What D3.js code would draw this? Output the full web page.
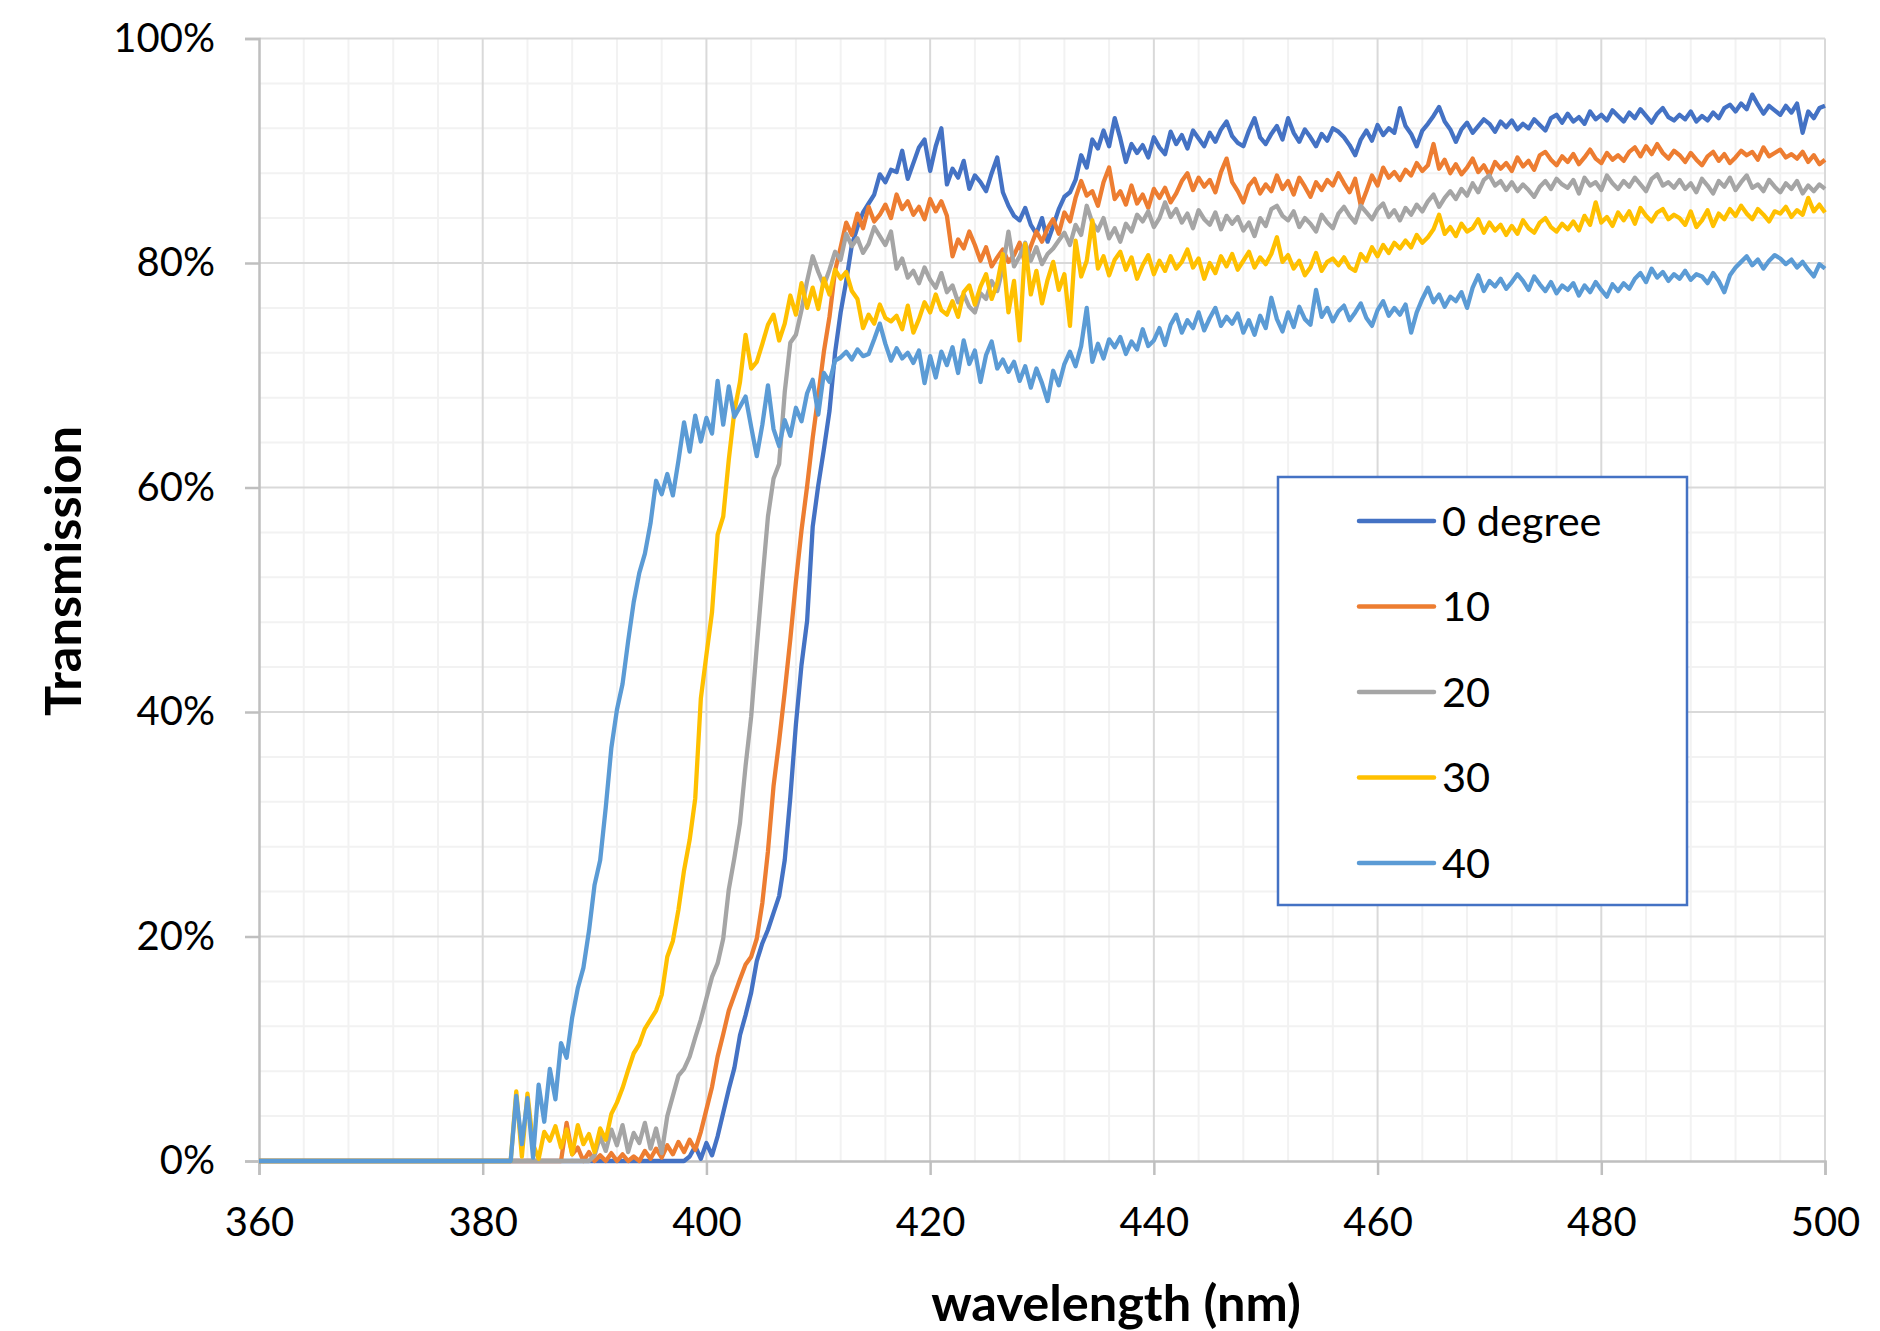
<!DOCTYPE html>
<html>
<head>
<meta charset="utf-8">
<script src="https://cdn.jsdelivr.net/npm/d3@7"></script>
<style>
  body { margin: 0; background: #fff; }
  svg text { font-family: Lato, "Open Sans", sans-serif; fill: #000; }
</style>
</head>
<body>
<div id="chart"></div>
<script>
// sampled transmission spectra, every 0.5 nm from 382 nm (flat 0% from 360 nm)
var startNm = 382;
var stepNm = 0.5;

var xTicks = [360, 380, 400, 420, 440, 460, 480, 500];
var yTicks = [0, 20, 40, 60, 80, 100];

var seriesNames = ["0 degree", "10", "20", "30", "40"];
var seriesColors = ["#4472C4", "#ED7D31", "#A5A5A5", "#FFC000", "#5B9BD5"];

var t0 = [
  0, 0, 0, 0, 0, 0, 0, 0, 0, 0,
  0, 0, 0, 0, 0, 0, 0, 0, 0, 0,
  0, 0, 0, 0, 0, 0, 0, 0, 0, 0,
  0, 0, 0, 0.4, 1.3, 0.2, 1.6, 0.5, 2.2, 4.3,
  6.4, 8.3, 11.2, 13.0, 15.0, 17.8, 19.4, 20.6, 22.1, 23.6,
  26.8, 32.4, 38.9, 44.2, 48.1, 56.5, 60.2, 63.4, 66.8, 72.0,
  75.6, 78.4, 81.6, 83.2, 84.5, 85.3, 86.1, 87.9, 87.2, 88.3,
  88.1, 90.0, 87.5, 88.9, 90.3, 91.0, 88.2, 90.4, 92.0, 87.0,
  88.4, 87.6, 89.1, 86.6, 87.8, 87.2, 86.4, 88.0, 89.4, 86.3,
  85.1, 84.2, 83.8, 84.9, 83.4, 82.6, 84.0, 81.9, 83.3, 84.8,
  85.9, 86.3, 87.4, 89.6, 88.5, 91.0, 90.2, 91.8, 90.4, 92.9,
  91.1, 89.0, 90.6, 89.8, 90.5, 89.4, 91.2, 90.3, 89.7, 91.7,
  90.6, 91.4, 90.2, 91.8, 91.1, 90.4, 91.6, 90.8, 91.9, 92.6,
  91.3, 90.7, 90.4, 91.8, 92.9, 91.2, 90.6, 91.5, 92.2, 91.0,
  92.9, 91.6, 90.8, 91.9, 91.2, 90.4, 91.5, 90.9, 92.0, 91.7,
  91.2, 90.5, 89.6, 91.0, 91.8, 90.9, 92.3, 91.4, 92.0, 91.6,
  93.8, 92.2, 91.5, 90.4, 91.8, 92.4, 93.1, 93.9, 92.6, 91.9,
  90.8, 91.9, 92.5, 91.6, 92.2, 92.8, 92.4, 91.7, 92.6, 92.1,
  92.7, 91.9, 92.4, 92.0, 92.8, 92.3, 91.8, 92.9, 93.2, 92.5,
  93.3, 92.6, 93.0, 92.4, 93.5, 92.8, 93.2, 92.7, 93.6, 93.1,
  92.6, 93.4, 92.9, 93.7, 93.1, 92.5, 93.3, 93.8, 93.0, 92.7,
  93.2, 92.8, 93.5, 92.6, 93.1, 92.7, 93.4, 92.9, 93.8, 94.1,
  93.5, 94.2, 93.7, 95.0, 94.1, 93.3, 94.0, 93.6, 93.2, 94.0,
  93.4, 94.2, 91.6, 93.5, 92.9, 93.8, 94.0
];

var t10 = [
  0, 0, 0, 0, 0, 0, 0, 0, 0, 0,
  0, 3.4, 0.6, 1.2, 0, 0.8, 0, 0.5, 0, 0.7,
  0, 0.6, 0, 0.4, 0, 0.9, 0.2, 1.1, 0.3, 1.4,
  0.6, 1.7, 0.8, 1.9, 1.0, 2.6, 4.6, 6.6, 9.3, 11.3,
  13.4, 14.8, 16.2, 17.5, 18.2, 19.8, 23.0, 27.6, 33.4, 37.4,
  41.8, 46.5, 51.6, 56.2, 60.1, 64.4, 68.2, 72.1, 75.2, 79.3,
  81.4, 83.6, 82.5, 84.4, 83.1, 85.0, 83.7, 84.3, 85.2, 84.0,
  86.1, 84.8, 85.5, 84.3, 85.0, 83.9, 85.7, 84.6, 85.5, 84.2,
  80.6, 82.1, 81.3, 82.8, 81.6, 80.2, 81.4, 79.7, 80.5, 81.2,
  80.1, 80.7, 81.8, 79.9, 81.5, 82.8, 81.9, 83.1, 83.9, 82.6,
  84.5, 83.7, 85.8, 87.3, 86.0, 86.4, 85.1, 87.2, 88.5, 85.7,
  86.4, 85.2, 86.9, 85.3, 86.1, 84.9, 86.6, 85.8, 86.7, 85.4,
  86.2, 87.3, 88.0, 86.5, 87.6, 86.8, 87.4, 86.3, 88.1, 89.3,
  87.2, 86.4, 85.4, 86.9, 87.5, 86.2, 87.0, 86.4, 87.8, 86.6,
  87.3, 86.1, 87.6, 86.8, 85.9, 87.2, 86.5, 87.4, 86.9, 88.0,
  87.1, 86.3, 87.5, 85.1, 86.4, 87.8, 86.9, 88.5, 87.6, 88.1,
  87.4, 88.3, 87.8, 88.9, 88.2, 88.7, 90.6, 88.4, 89.2, 88.0,
  88.8, 87.9, 88.5, 89.3, 88.1, 88.7, 87.8, 89.0, 88.4, 88.9,
  88.2, 89.4, 88.6, 89.1, 88.3, 89.6, 89.9, 89.2, 88.7, 89.5,
  89.0, 89.7, 88.8, 89.4, 90.1, 89.3, 88.9, 89.8, 89.2, 89.6,
  89.1, 89.9, 90.3, 89.5, 90.4, 89.7, 90.6, 89.8, 89.3, 90.0,
  89.6, 89.0, 89.8, 89.2, 88.7, 89.5, 89.9, 89.1, 89.7, 88.9,
  89.4, 90.0, 89.6, 89.9, 89.2, 90.3, 89.5, 89.8, 90.1, 89.4,
  89.7, 89.3, 89.9, 89.0, 89.6, 88.8, 89.2
];

var t20 = [
  0, 0, 0, 0, 0, 0, 0, 0, 0, 0,
  0, 0, 0, 0, 0, 0, 0.5, 2.2, 0.9, 2.8,
  1.4, 3.2, 0.8, 2.5, 1.6, 3.4, 1.1, 2.9, 0.7, 4.0,
  5.8, 7.6, 8.2, 9.3, 11.0, 12.6, 14.5, 16.4, 17.6, 19.8,
  24.2, 27.0, 30.1, 35.2, 39.6, 45.8, 51.7, 57.4, 60.8, 62.1,
  68.5, 72.9, 73.6, 75.8, 78.4, 80.6, 79.2, 78.0, 79.4, 81.0,
  80.3, 82.6, 81.5, 82.2, 80.9, 81.7, 83.2, 82.4, 81.6, 82.8,
  79.5, 80.4, 78.7, 79.3, 78.2, 79.6, 78.5, 77.8, 79.1, 77.4,
  78.0, 76.5, 77.2, 76.1, 75.6, 77.3, 76.8, 78.4, 77.5, 79.6,
  82.8, 79.7, 80.6, 81.8, 80.2, 81.4, 79.9, 80.8, 81.3, 82.0,
  82.7, 81.6, 83.4, 82.5, 85.1, 83.6, 82.9, 84.0, 82.2, 83.1,
  81.9, 83.5, 82.8, 84.3, 83.7, 84.6, 83.2, 84.0, 85.4, 84.1,
  84.8, 83.6, 84.4, 83.1, 84.7, 83.9, 83.4, 84.5, 83.0, 84.2,
  83.5, 84.1, 82.9, 83.6, 82.4, 84.0, 83.3, 84.8, 85.1, 84.2,
  83.8, 84.6, 83.2, 84.0, 83.5, 82.8, 84.3, 83.6, 83.1, 84.4,
  85.0, 84.2, 83.6, 85.1, 84.5, 83.9, 84.8, 85.3, 84.1, 84.7,
  83.8, 84.9, 84.3, 85.2, 84.6, 85.5, 86.1, 85.0, 85.8, 86.4,
  85.7, 86.6, 86.0, 87.1, 86.3, 87.4, 87.8, 86.9, 87.3, 86.5,
  87.2, 86.4, 87.0, 86.5, 85.9, 86.8, 87.3, 86.6, 87.5, 87.0,
  86.7, 87.4, 86.2, 87.6, 86.9, 87.2, 86.5, 87.8, 87.1, 86.6,
  87.3, 86.8, 87.6, 87.0, 86.4, 87.5, 87.9, 86.9, 87.2, 86.7,
  87.4, 86.6, 87.1, 86.3, 87.5, 86.9, 86.2, 87.3, 86.8, 87.6,
  86.5, 87.2, 87.8, 86.7, 87.0, 86.4, 87.4, 86.8, 86.3, 87.1,
  86.6, 87.3, 86.2, 86.9, 86.4, 87.0, 86.6
];

var t30 = [
  0, 0, 6.2, 0.4, 6.0, 1.5, 0.2, 2.6, 1.8, 3.1,
  1.2, 2.8, 0.6, 3.2, 1.5, 2.4, 0.8, 2.9, 1.9, 4.2,
  5.2, 6.5, 8.1, 9.6, 10.4, 11.8, 12.6, 13.4, 14.8, 18.2,
  19.6, 22.4, 25.9, 28.6, 32.3, 41.2, 45.1, 48.9, 55.8, 57.4,
  62.5, 66.8, 69.4, 73.6, 70.6, 71.2, 72.8, 74.5, 75.4, 73.1,
  74.6, 77.1, 75.4, 78.2, 76.0, 77.8, 75.9, 78.6, 77.2, 79.4,
  78.6, 79.2, 77.5, 76.8, 74.2, 75.4, 74.6, 76.3, 75.1, 74.8,
  75.3, 74.1, 76.2, 73.8, 75.0, 76.5, 75.6, 77.2, 75.8, 75.4,
  76.6, 75.2, 77.4, 78.0, 76.3, 77.9, 79.0, 76.8, 78.2, 80.8,
  75.6, 78.4, 73.1, 81.7, 77.2, 79.3, 76.4, 78.5, 80.1, 77.6,
  79.0, 74.4, 82.0, 78.8, 80.2, 83.8, 79.5, 80.6, 78.9, 80.3,
  81.0, 79.4, 80.5, 78.6, 79.8, 80.7, 79.0, 80.2, 79.3, 80.6,
  79.5, 80.1, 81.2, 79.6, 80.4, 78.6, 80.0, 79.1, 80.6, 79.7,
  80.8, 79.4, 80.2, 81.0, 79.6, 80.5, 79.9, 80.8, 82.3, 80.1,
  80.7, 79.5, 80.2, 78.9, 79.6, 80.9, 79.3, 80.1, 80.4, 79.8,
  80.5, 79.6, 79.3, 80.8, 80.2, 81.4, 80.6, 81.6, 80.9, 81.8,
  81.3, 82.0, 81.4, 82.5, 81.8, 82.3, 83.0, 84.3, 82.6, 83.2,
  82.4, 83.5, 82.8, 83.1, 83.9, 82.7, 83.6, 82.9, 83.4, 82.5,
  83.3, 82.6, 83.8, 83.1, 82.7, 83.6, 84.0, 83.2, 82.8, 83.5,
  83.0, 83.7, 82.9, 84.2, 83.4, 85.4, 83.6, 84.1, 83.3, 84.5,
  83.8, 84.6, 83.5, 84.9, 84.2, 83.7, 84.5, 84.8, 83.9, 84.3,
  84.0, 83.4, 84.6, 83.2, 83.8, 84.7, 83.3, 84.4, 83.9, 84.8,
  84.2, 85.1, 84.4, 83.9, 84.8, 84.3, 83.7, 84.6, 84.4, 85.0,
  84.1, 84.7, 84.3, 85.8, 84.6, 85.2, 84.5
];

var t40 = [
  0, 0, 5.8, 1.5, 5.6, 0.3, 6.8, 3.5, 8.2, 5.5,
  10.5, 9.2, 12.8, 15.4, 17.2, 20.5, 24.6, 26.8, 31.5, 36.8,
  40.2, 42.5, 46.3, 49.8, 52.4, 54.1, 56.8, 60.6, 59.4, 61.2,
  59.3, 62.4, 65.8, 63.2, 66.4, 64.1, 66.2, 64.8, 69.5, 65.6,
  69.0, 66.3, 67.2, 68.1, 65.4, 62.8, 65.6, 69.1, 65.2, 63.7,
  66.0, 64.6, 67.1, 65.9, 68.4, 69.6, 66.5, 70.2, 69.4, 71.3,
  71.6, 72.1, 71.4, 72.3, 71.7, 71.9, 73.2, 74.6, 72.8, 71.3,
  72.4, 71.5, 72.0, 71.1, 72.2, 69.3, 71.7, 69.8, 72.1, 70.9,
  72.5, 70.2, 73.1, 71.0, 72.2, 69.4, 71.8, 73.0, 70.6, 71.4,
  70.3, 71.2, 69.5, 70.8, 68.9, 70.6, 69.3, 67.7, 70.4, 69.1,
  71.0, 72.1, 70.8, 72.6, 76.0, 71.2, 72.8, 71.5, 73.2, 72.5,
  73.4, 71.9, 73.0, 72.3, 74.1, 72.6, 73.1, 74.2, 72.7, 74.5,
  75.4, 73.8, 74.9, 74.2, 75.6, 74.0, 75.1, 76.0, 74.4, 75.2,
  74.6, 75.5, 73.8, 74.9, 73.6, 75.3, 74.2, 76.9, 75.0, 73.9,
  75.6, 74.3, 76.1, 75.0, 74.5, 77.6, 75.2, 76.0, 74.8, 75.7,
  76.2, 74.9, 75.6, 76.4, 75.1, 74.4, 75.8, 76.6, 75.3, 76.0,
  75.4, 76.3, 73.8, 75.6, 76.8, 77.8, 76.5, 77.2, 76.1, 77.0,
  76.6, 77.4, 76.0, 77.8, 78.9, 77.5, 78.4, 77.9, 78.6, 77.7,
  78.3, 79.0, 78.4, 77.6, 78.8, 78.1, 77.5, 78.3, 77.3, 78.0,
  77.6, 78.2, 77.1, 78.0, 77.4, 78.3, 77.6, 77.0, 78.1, 77.5,
  78.2, 77.7, 78.6, 79.1, 78.3, 79.5, 78.7, 79.2, 78.4, 79.0,
  78.6, 79.3, 78.5, 79.0, 78.8, 78.2, 79.1, 78.4, 77.4, 78.9,
  79.6, 80.1, 80.6, 79.8, 80.3, 79.5, 80.2, 80.7, 80.4, 79.9,
  80.3, 79.6, 80.1, 79.4, 78.8, 79.9, 79.5
];

var seriesValues = [t0, t10, t20, t30, t40];

var svgWidth = 1880;
var svgHeight = 1331;

var margin = { top: 38.5, right: 55, bottom: 170, left: 259 };
var width = svgWidth - margin.left - margin.right;
var height = svgHeight - margin.top - margin.bottom;

var svg = d3.select("#chart")
  .append("svg")
  .attr("width", svgWidth)
  .attr("height", svgHeight);

var chartGroup = svg.append("g")
  .attr("transform", `translate(${margin.left}, ${margin.top})`);

var xScale = d3.scaleLinear().domain([360, 500]).range([0, width]);
var yScale = d3.scaleLinear().domain([0, 100]).range([height, 0]);

// minor grid (every 4 units)
chartGroup.append("g").selectAll("line")
  .data(d3.range(364, 500, 4).filter(d => (d - 360) % 20 !== 0))
  .enter().append("line")
  .attr("x1", d => xScale(d)).attr("x2", d => xScale(d))
  .attr("y1", 0).attr("y2", height)
  .attr("stroke", "#f2f2f2").attr("stroke-width", 2);

chartGroup.append("g").selectAll("line")
  .data(d3.range(4, 100, 4).filter(d => d % 20 !== 0))
  .enter().append("line")
  .attr("x1", 0).attr("x2", width)
  .attr("y1", d => yScale(d)).attr("y2", d => yScale(d))
  .attr("stroke", "#f2f2f2").attr("stroke-width", 2);

// major grid
chartGroup.append("g").selectAll("line")
  .data(xTicks.slice(1))
  .enter().append("line")
  .attr("x1", d => xScale(d)).attr("x2", d => xScale(d))
  .attr("y1", 0).attr("y2", height)
  .attr("stroke", "#d9d9d9").attr("stroke-width", 2);

chartGroup.append("g").selectAll("line")
  .data(yTicks.slice(1))
  .enter().append("line")
  .attr("x1", 0).attr("x2", width)
  .attr("y1", d => yScale(d)).attr("y2", d => yScale(d))
  .attr("stroke", "#d9d9d9").attr("stroke-width", 2);

// axes
var bottomAxis = d3.axisBottom(xScale).tickValues(xTicks).tickSize(14).tickPadding(33);
var leftAxis = d3.axisLeft(yScale).tickValues(yTicks).tickSize(14).tickPadding(30)
  .tickFormat(d => d + "%");

var xAxisG = chartGroup.append("g")
  .attr("transform", `translate(0, ${height})`)
  .call(bottomAxis);

var yAxisG = chartGroup.append("g")
  .call(leftAxis);

[xAxisG, yAxisG].forEach(function(g) {
  g.select(".domain").attr("stroke", "#bfbfbf").attr("stroke-width", 2.5);
  g.selectAll(".tick line").attr("stroke", "#bfbfbf").attr("stroke-width", 2.5);
  g.selectAll(".tick text")
    .attr("font-family", "Lato, 'Open Sans', sans-serif")
    .attr("font-size", 40)
    .attr("fill", "#000");
});

// series lines
var line = d3.line()
  .x(d => xScale(d[0]))
  .y(d => yScale(d[1]));

seriesValues.forEach(function(vals, k) {
  var pts = [[360, 0]].concat(vals.map((v, i) => [startNm + i * stepNm, v]));
  chartGroup.append("path")
    .datum(pts)
    .attr("fill", "none")
    .attr("stroke", seriesColors[k])
    .attr("stroke-width", 4.3)
    .attr("stroke-linejoin", "round")
    .attr("d", line);
});

// axis titles
svg.append("text")
  .attr("transform", `translate(63, 571) rotate(-90)`)
  .attr("text-anchor", "middle")
  .attr("dy", "0.36em")
  .attr("font-size", 50.5)
  .attr("font-weight", "bold")
  .text("Transmission");

svg.append("text")
  .attr("x", 1116)
  .attr("y", 1303)
  .attr("text-anchor", "middle")
  .attr("dy", "0.36em")
  .attr("font-size", 50.5)
  .attr("font-weight", "bold")
  .text("wavelength (nm)");

// legend
var legend = svg.append("g");
legend.append("rect")
  .attr("x", 1278).attr("y", 477)
  .attr("width", 409).attr("height", 428)
  .attr("fill", "#fff")
  .attr("stroke", "#4472C4")
  .attr("stroke-width", 2.5);

var legendItems = legend.selectAll(".item")
  .data(seriesNames)
  .enter().append("g")
  .attr("transform", (d, i) => `translate(0, ${521 + i * 85.5})`);

legendItems.append("line")
  .attr("x1", 1359).attr("x2", 1434)
  .attr("stroke", (d, i) => seriesColors[i])
  .attr("stroke-width", 4.5)
  .attr("stroke-linecap", "round");

legendItems.append("text")
  .attr("x", 1442)
  .attr("dy", "0.36em")
  .attr("font-size", 41.5)
  .text(d => d);
</script>
</body>
</html>
